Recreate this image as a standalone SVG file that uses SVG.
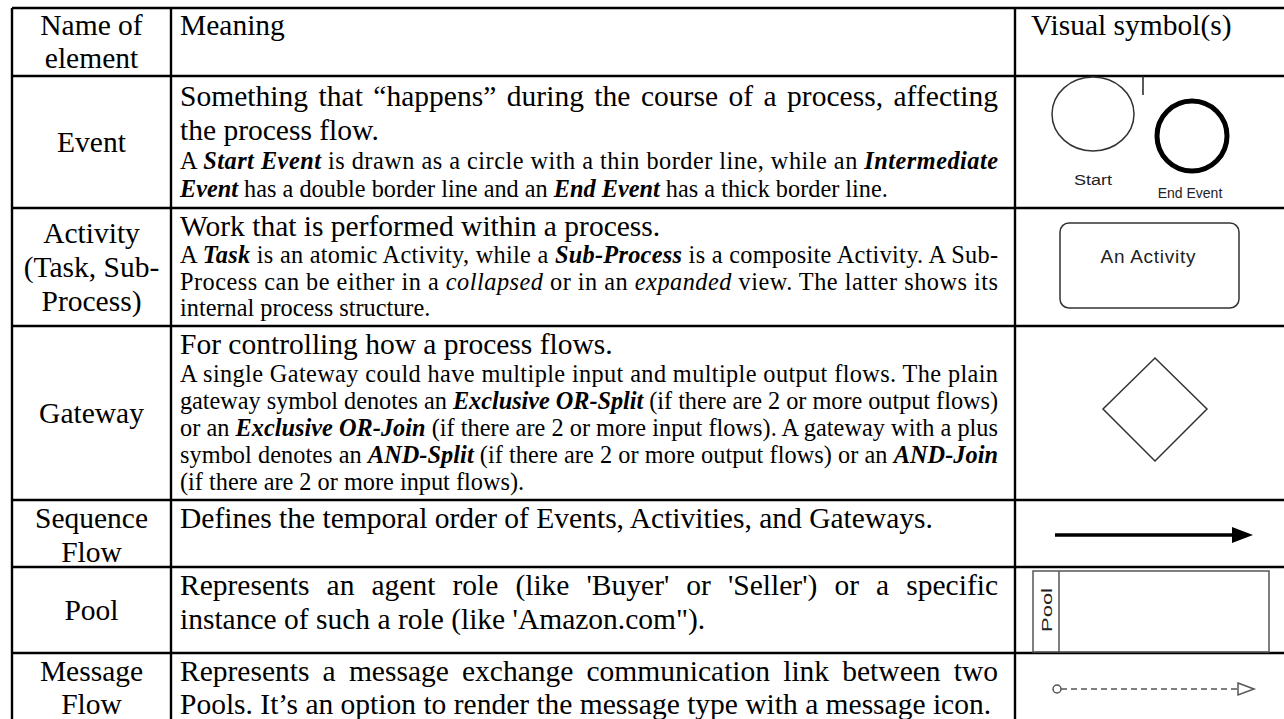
<svg xmlns="http://www.w3.org/2000/svg" width="1284" height="719" viewBox="0 0 1284 719">
<style>
.L{font-family:"Liberation Serif","Times New Roman",serif;font-size:29.5px;fill:#000}
.S{font-family:"Liberation Serif","Times New Roman",serif;font-size:24.3px;fill:#000}
.c{text-anchor:middle}
.bi{font-weight:bold;font-style:italic}
.i{font-style:italic}
.sym{font-family:"Liberation Sans",Arial,sans-serif;fill:#222}
.grid line{stroke:#000;stroke-width:2.4}
.shape{fill:none;stroke:#333;stroke-width:1.5}
</style>
<rect width="1284" height="719" fill="#fff"/>
<g id="grid" class="grid">
<line x1="12" y1="8" x2="1284" y2="8"/>
<line x1="12" y1="76" x2="1284" y2="76"/>
<line x1="12" y1="208" x2="1284" y2="208"/>
<line x1="12" y1="326" x2="1284" y2="326"/>
<line x1="12" y1="500" x2="1284" y2="500"/>
<line x1="12" y1="567" x2="1284" y2="567"/>
<line x1="12" y1="653" x2="1284" y2="653"/>
<line x1="12" y1="8" x2="12" y2="719"/>
<line x1="171" y1="8" x2="171" y2="719"/>
<line x1="1015" y1="8" x2="1015" y2="719"/>
</g>
<g id="header">
<text class="L c" x="91.5" y="35">Name of</text>
<text class="L c" x="91.5" y="68">element</text>
<text class="L" x="180" y="35">Meaning</text>
<text class="L" x="1031" y="35">Visual symbol(s)</text>
</g>
<g id="row-event">
<text class="L c" x="91.5" y="152">Event</text>
<text class="L" x="180" y="106" word-spacing="3" textLength="818" lengthAdjust="spacing">Something that “happens” during the course of a process, affecting</text>
<text class="L" x="180" y="140">the process flow.</text>
<text class="S" x="180" y="169" textLength="818" lengthAdjust="spacing">A <tspan class="bi">Start Event</tspan> is drawn as a circle with a thin border line, while an <tspan class="bi">Intermediate</tspan></text>
<text class="S" x="180" y="197"><tspan class="bi">Event</tspan> has a double border line and an <tspan class="bi">End Event</tspan> has a thick border line.</text>
<ellipse class="shape" cx="1093" cy="114" rx="41" ry="37" stroke-width="1.3"/>
<circle cx="1192" cy="136" r="35" fill="none" stroke="#000" stroke-width="5"/>
<line x1="1143" y1="76" x2="1143" y2="95" stroke="#222" stroke-width="1.5"/>
<text class="sym c" x="1093" y="185" font-size="14" textLength="38" lengthAdjust="spacingAndGlyphs">Start</text>
<text class="sym c" x="1190" y="198" font-size="14">End Event</text>
</g>
<g id="row-activity">
<text class="L c" x="91.5" y="243">Activity</text>
<text class="L c" x="91.5" y="277">(Task, Sub-</text>
<text class="L c" x="91.5" y="311">Process)</text>
<text class="L" x="180" y="236">Work that is performed within a process.</text>
<text class="S" x="180" y="263" textLength="818" lengthAdjust="spacing">A <tspan class="bi">Task</tspan> is an atomic Activity, while a <tspan class="bi">Sub-Process</tspan> is a composite Activity. A Sub-</text>
<text class="S" x="180" y="290" textLength="818" lengthAdjust="spacing">Process can be either in a <tspan class="i">collapsed</tspan> or in an <tspan class="i">expanded</tspan> view. The latter shows its</text>
<text class="S" x="180" y="316">internal process structure.</text>
<rect class="shape" x="1060" y="223" width="179" height="85" rx="9"/>
<text class="sym c" x="1148" y="263" font-size="19" textLength="95" lengthAdjust="spacing">An Activity</text>
</g>
<g id="row-gateway">
<text class="L c" x="91.5" y="423">Gateway</text>
<text class="L" x="180" y="354">For controlling how a process flows.</text>
<text class="S" x="180" y="382" textLength="818" lengthAdjust="spacing">A single Gateway could have multiple input and multiple output flows. The plain</text>
<text class="S" x="180" y="409" textLength="818" lengthAdjust="spacing">gateway symbol denotes an <tspan class="bi">Exclusive OR-Split</tspan> (if there are 2 or more output flows)</text>
<text class="S" x="180" y="436" textLength="818" lengthAdjust="spacing">or an <tspan class="bi">Exclusive OR-Join</tspan> (if there are 2 or more input flows). A gateway with a plus</text>
<text class="S" x="180" y="463" textLength="818" lengthAdjust="spacing">symbol denotes an <tspan class="bi">AND-Split</tspan> (if there are 2 or more output flows) or an <tspan class="bi">AND-Join</tspan></text>
<text class="S" x="180" y="490">(if there are 2 or more input flows).</text>
<polygon class="shape" points="1155,358 1207,409 1155,461 1103,409"/>
</g>
<g id="row-sequence">
<text class="L c" x="91.5" y="528">Sequence</text>
<text class="L c" x="91.5" y="562">Flow</text>
<text class="L" x="180" y="528">Defines the temporal order of Events, Activities, and Gateways.</text>
<line x1="1055" y1="535" x2="1236" y2="535" stroke="#000" stroke-width="3.5"/>
<polygon points="1232,527 1253,535 1232,543" fill="#000"/>
</g>
<g id="row-pool">
<text class="L c" x="91.5" y="620">Pool</text>
<text class="L" x="180" y="595" word-spacing="9.7" textLength="818" lengthAdjust="spacing">Represents an agent role (like 'Buyer' or 'Seller') or a specific</text>
<text class="L" x="180" y="629">instance of such a role (like 'Amazon.com").</text>
<rect x="1033" y="571" width="236" height="81" fill="none" stroke="#555" stroke-width="1.5"/>
<line x1="1059" y1="571" x2="1059" y2="652" stroke="#555" stroke-width="1.5"/>
<text class="sym c" transform="translate(1052,610) rotate(-90)" font-size="15" textLength="44" lengthAdjust="spacingAndGlyphs">Pool</text>
</g>
<g id="row-message">
<text class="L c" x="91.5" y="681">Message</text>
<text class="L c" x="91.5" y="714">Flow</text>
<text class="L" x="180" y="681" word-spacing="5.8" textLength="818" lengthAdjust="spacing">Represents a message exchange communication link between two</text>
<text class="L" x="180" y="714">Pools. It’s an option to render the message type with a message icon.</text>
<circle cx="1057" cy="689" r="4" fill="#fff" stroke="#555" stroke-width="1.5"/>
<line x1="1061" y1="689" x2="1238" y2="689" stroke="#555" stroke-width="1.5" stroke-dasharray="6,4"/>
<polygon points="1238,683 1254,689 1238,695" fill="#fff" stroke="#555" stroke-width="1.5"/>
</g>
</svg>
